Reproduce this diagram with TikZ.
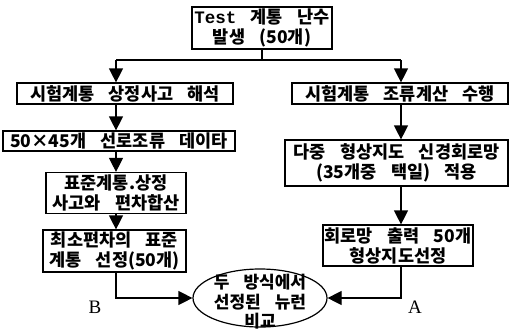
\documentclass[tikz,border=0pt]{standalone}
\usepackage{fontspec}
\setmainfont{Liberation Serif}
\newfontfamily\kr[WordSpace=3.6]{Noto Sans CJK KR}
\newfontfamily\mono{Liberation Mono}
\usetikzlibrary{arrows.meta,shapes.geometric}

\begin{document}
\begin{tikzpicture}[x=1pt,y=-1pt,line width=1.2pt,
  box/.style={draw,inner sep=0pt,align=center,font=\kr\bfseries\fontsize{17.5}{20}\selectfont},
  arr/.style={-{Triangle[length=14pt,width=14pt]}}]
\useasboundingbox (0,0) rectangle (509,333);
% boxes
\node[box,minimum width=140,minimum height=42] (T) at (262,28) {{\mono\bfseries Test} 계통 난수\\발생 (50개)};
\node[box,minimum width=216,minimum height=21] (L1) at (125,93.5) {시험계통 상정사고 해석};
\node[box,minimum width=216,minimum height=21] (R1) at (400,93.5) {시험계통 조류계산 수행};
\node[box,minimum width=232,minimum height=20] (L2) at (119,141) {50×45개 선로조류 데이타};
\node[box,minimum width=223,minimum height=46] (R2) at (396.5,163) {다중 형상지도 신경회로망\\(35개중 택일) 적용};
\node[box,minimum width=140,minimum height=41] (L3) at (116,193) {표준계통.상정\\사고와 편차합산};
\node[box,minimum width=143,minimum height=42] (L4) at (114.5,251) {최소편차의 표준\\계통 선정(50개)};
\node[box,minimum width=150,minimum height=41] (R3) at (398,245.5) {회로망 출력 50개\\형상지도선정};
\node[draw,ellipse,inner sep=0pt,minimum width=134,minimum height=58] (E) at (260,298) {};
\node[align=center,font=\kr\bfseries\fontsize{17}{19.5}\selectfont] (Etxt) at (260,302) {두 방식에서\\선정된 뉴런\\비교};
\node[font=\fontsize{19}{20}\selectfont] (labB) at (95,307) {B};
\node[font=\fontsize{19}{20}\selectfont] (labA) at (415,307) {A};
% split
\coordinate (sl) at (116,60);
\coordinate (sr) at (401,60);
\draw (T.south) -- (T.south |- sl);
\draw (sl) -- (sr);
\draw[arr] (sl) -- (sl |- L1.north);
\draw[arr] (sr) -- (sr |- R1.north);
% left chain
\draw[arr] (L1.south -| sl) -- (sl |- L2.north);
\draw[arr] (L2.south -| sl) -- (sl |- L3.north);
\draw[arr] (L3.south -| sl) -- (sl |- L4.north);
\draw[arr] (L4.south -| sl) |- (E.west);
% right chain
\draw[arr] (R1.south -| sr) -- (sr |- R2.north);
\draw[arr] (R2.south -| sr) -- (sr |- R3.north);
\draw[arr] (R3.south -| sr) |- (E.east);
\end{tikzpicture}
\end{document}
